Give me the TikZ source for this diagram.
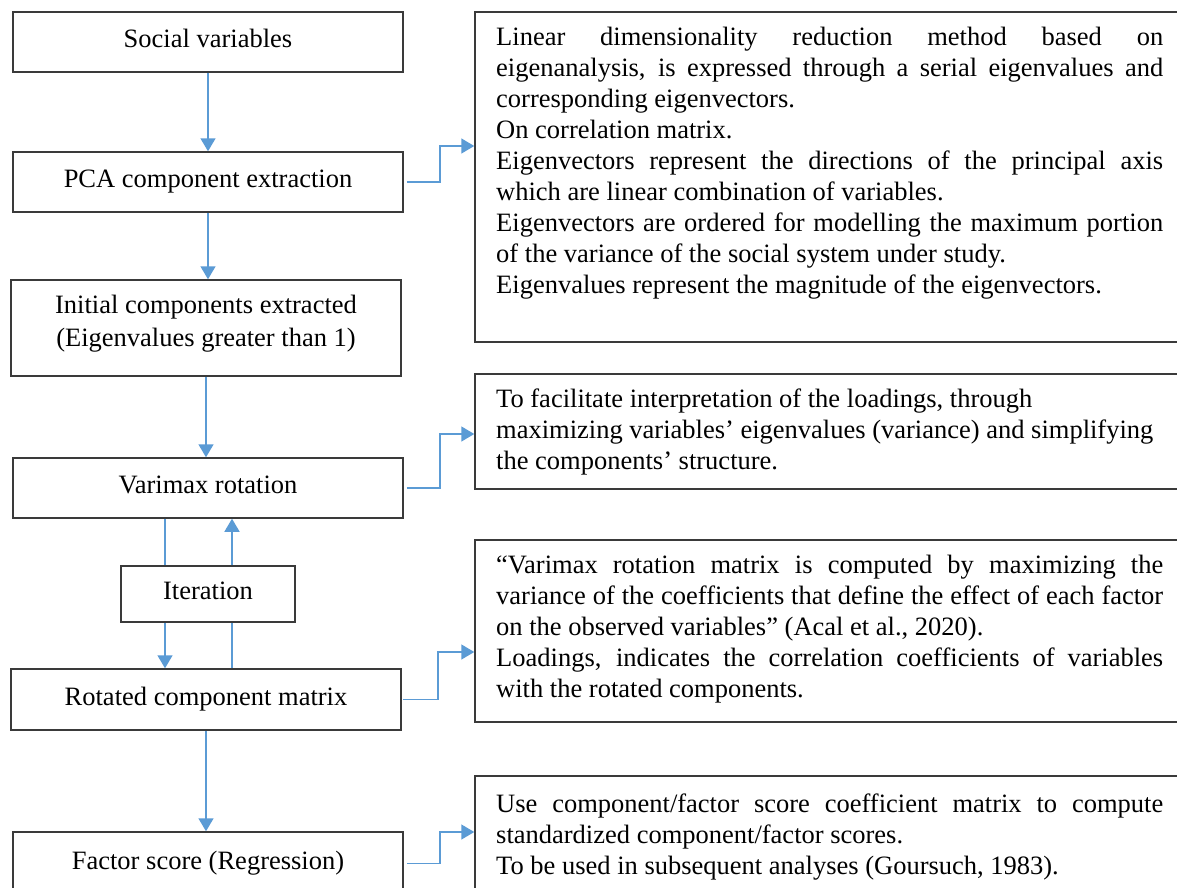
\documentclass[tikz,border=0pt]{standalone}
\usepackage{fontspec}
\setmainfont{Liberation Serif}
\usetikzlibrary{arrows.meta}
\definecolor{arrblue}{HTML}{5B9BD5}
\definecolor{boxgray}{HTML}{3A3A3A}
\newcommand{\jl}[1]{\makebox[667pt][s]{\strut #1}}
\begin{document}
\begin{tikzpicture}[x=1pt,y=-1pt,
  box/.style={draw=boxgray, line width=1.5pt, inner sep=0pt, font=\fontsize{26.5}{31}\selectfont, align=center, text height=18pt, text depth=7pt},
  plainbox/.style={draw=boxgray, line width=1.5pt, inner sep=0pt},
  rbox/.style={draw=boxgray, line width=1.5pt, inner sep=0pt, minimum width=715pt},
  lbl/.style={inner sep=0pt, align=center, font=\fontsize{26.5}{33}\selectfont},
  txt/.style={anchor=north west, inner sep=0pt, align=left, font=\fontsize{26.5}{31}\selectfont},
  arr/.style={draw=arrblue, line width=1.5pt, -{Triangle[length=13pt,width=15pt]}},
  ln/.style={draw=arrblue, line width=1.5pt}]
\useasboundingbox (0,0) rectangle (1177,888);
\clip (0,0) rectangle (1177,888);
\fill[white] (0,0) rectangle (1177,888);

% left column
\node[box, minimum width=390pt, minimum height=60pt] (soc) at (208,42) {Social variables};
\node[box, minimum width=390pt, minimum height=60pt] (pca) at (208,182) {PCA component extraction};
\node[plainbox, minimum width=390pt, minimum height=96pt] (ini) at (206,328) {};
\node[lbl] (initxt) at ([yshift=4.5pt]ini.center) {Initial components extracted\\(Eigenvalues greater than 1)};
\node[box, minimum width=390pt, minimum height=60pt] (var) at (208,488) {Varimax rotation};
\node[box, minimum width=174pt, minimum height=56pt] (itr) at (208,594) {Iteration};
\node[box, minimum width=390pt, minimum height=61pt] (rot) at (206,699.5) {Rotated component matrix};
\node[box, minimum width=390pt, minimum height=63pt] (fac) at (208,863.5) {Factor score (Regression)};

% right column boxes
\node[rbox, minimum height=330pt] (b1) at (832.5,177) {};
\node[rbox, minimum height=115pt] (b2) at (832.5,431.5) {};
\node[rbox, minimum height=182pt] (b3) at (832.5,631) {};
\node[rbox, minimum height=130pt] (b4) at (832.5,841) {};

\node[txt] (t1) at (496,24) {%
\jl{Linear dimensionality reduction method based on}\\
\jl{eigenanalysis, is expressed through a serial eigenvalues and}\\
\strut corresponding eigenvectors.\\
\strut On correlation matrix.\\
\jl{Eigenvectors represent the directions of the principal axis}\\
\strut which are linear combination of variables.\\
\jl{Eigenvectors are ordered for modelling the maximum portion}\\
\strut of the variance of the social system under study.\\
\strut Eigenvalues represent the magnitude of the eigenvectors.};

\node[txt] (t2) at (496,386) {%
\strut To facilitate interpretation of the loadings, through\\
\strut maximizing variables’ eigenvalues (variance) and simplifying\\
\strut the components’ structure.};

\node[txt] (t3) at (496,551.5) {%
\jl{“Varimax rotation matrix is computed by maximizing the}\\
\jl{variance of the coefficients that define the effect of each factor}\\
\strut on the observed variables” (Acal et al., 2020).\\
\jl{Loadings, indicates the correlation coefficients of variables}\\
\strut with the rotated components.};

\node[txt] (t4) at (496,790.5) {%
\jl{Use component/factor score coefficient matrix to compute}\\
\strut standardized component/factor scores.\\
\strut To be used in subsequent analyses (Goursuch, 1983).};

% vertical flow
\draw[arr] (soc.south) -- (soc.south |- pca.north);
\draw[arr] (pca.south) -- (pca.south |- ini.north);
\draw[arr] (ini.south) -- (ini.south |- var.north);
\draw[arr] (rot.south) -- (rot.south |- fac.north);

% iteration loop
\coordinate (L) at (165,0);
\coordinate (R) at (232,0);
\draw[ln] (var.south -| L) -- (itr.north -| L);
\draw[arr] (itr.north -| R) -- (var.south -| R);
\draw[arr] (itr.south -| L) -- (rot.north -| L);
\draw[ln] (rot.north -| R) -- (itr.south -| R);

% side connectors
\coordinate (k1) at (440,146);
\coordinate (k2) at (440,434);
\coordinate (k3) at (438,652);
\coordinate (k4) at (440,832);
\draw[arr] ([xshift=3pt]pca.east) -| (k1) -- (b1.west |- k1);
\draw[arr] ([xshift=3pt]var.east) -| (k2) -- (b2.west |- k2);
\draw[arr] ([xshift=1pt]rot.east) -| (k3) -- (b3.west |- k3);
\draw[arr] ([xshift=3pt]fac.east) -| (k4) -- (b4.west |- k4);
\end{tikzpicture}
\end{document}
